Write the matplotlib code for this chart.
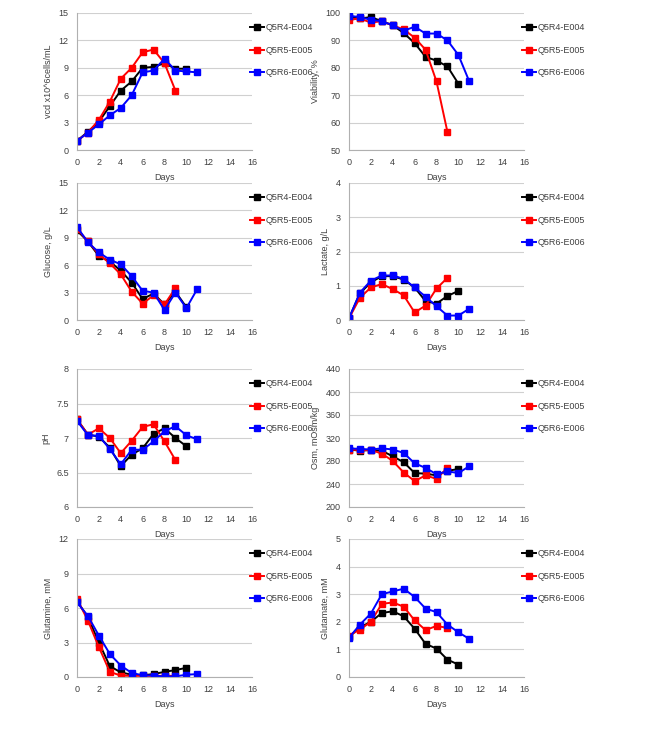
import matplotlib
matplotlib.use('Agg')
import matplotlib.pyplot as plt

plt.rcParams['font.family'] = ['Liberation Sans', 'DejaVu Sans']

series_names = ['Q5R4-E004', 'Q5R5-E005', 'Q5R6-E006']
series_colors = ['#000000', '#ff0000', '#0000ff']

# values per panel: [E004, E005, E006], day index = position
vcd = [
    [1.0, 2.0, 3.1, 4.8, 6.5, 7.5, 9.0, 9.1, 9.5, 8.9, 8.9],
    [1.0, 1.9, 3.3, 5.3, 7.8, 9.0, 10.7, 11.0, 9.5, 6.5],
    [1.0, 1.9, 2.8, 3.8, 4.6, 6.0, 8.5, 8.7, 10.0, 8.7, 8.6, 8.5],
]
viability = [
    [98.5, 98.0, 98.5, 97.0, 95.5, 92.7, 89.0, 84.0, 82.6, 80.5, 74.2],
    [97.5, 98.0, 96.5, 97.0, 95.5, 94.0, 91.0, 86.6, 75.0, 56.6],
    [99.0, 98.5, 97.5, 97.0, 95.5, 93.5, 95.0, 92.5, 92.5, 90.0, 84.7, 75.0],
]
glucose = [
    [9.8, 8.6, 7.0, 6.4, 5.4, 4.1, 2.3, 2.9, 1.7, 3.1, 1.4],
    [10.0, 8.6, 7.2, 6.2, 5.0, 3.1, 1.8, 2.7, 1.7, 3.5],
    [10.2, 8.5, 7.4, 6.6, 6.1, 4.8, 3.2, 3.0, 1.1, 3.0, 1.3, 3.4],
]
lactate = [
    [0.05, 0.78, 1.1, 1.28, 1.28, 1.18, 0.95, 0.55, 0.48, 0.7, 0.85],
    [0.05, 0.65, 0.95, 1.05, 0.9, 0.72, 0.22, 0.42, 0.92, 1.23],
    [0.05, 0.8, 1.15, 1.3, 1.3, 1.2, 0.95, 0.68, 0.4, 0.13, 0.13, 0.33],
]
ph = [
    [7.27, 7.05, 7.02, 6.86, 6.59, 6.76, 6.85, 7.06, 7.14, 7.0, 6.88],
    [7.27, 7.05, 7.14, 7.0, 6.78, 6.96, 7.16, 7.2, 6.95, 6.68],
    [7.25, 7.04, 7.03, 6.84, 6.62, 6.83, 6.83, 6.95, 7.1, 7.17, 7.04, 6.98],
]
osm = [
    [300, 298, 299, 298, 288, 278, 259, 258, 255, 263, 266],
    [300, 299, 299, 293, 280, 260, 245, 255, 249, 268],
    [302, 301, 300, 302, 300, 294, 276, 268, 257, 262, 259, 271],
]
glutamine = [
    [6.6, 5.2, 3.0, 0.95, 0.4, 0.2, 0.15, 0.25, 0.45, 0.6, 0.8],
    [6.8, 4.9, 2.6, 0.45, 0.12, 0.1, 0.1, 0.1, 0.1, 0.1],
    [6.5, 5.3, 3.6, 2.0, 1.0, 0.35, 0.15, 0.12, 0.05, 0.05, 0.2, 0.25],
]
glutamate = [
    [1.45, 1.8, 2.0, 2.32, 2.38, 2.2, 1.75, 1.2, 1.03, 0.63, 0.45],
    [1.5, 1.72, 2.0, 2.65, 2.7, 2.55, 2.05, 1.7, 1.85, 1.78],
    [1.42, 1.9, 2.3, 3.0, 3.1, 3.2, 2.9, 2.48, 2.35, 1.9, 1.62, 1.38],
]

panels = [
    (vcd, 'vcd x10^6cells/mL', [0, 3, 6, 9, 12, 15]),
    (viability, 'Viability, %', [50, 60, 70, 80, 90, 100]),
    (glucose, 'Glucose, g/L', [0, 3, 6, 9, 12, 15]),
    (lactate, 'Lactate, g/L', [0, 1, 2, 3, 4]),
    (ph, 'pH', [6, 6.5, 7, 7.5, 8]),
    (osm, 'Osm, mOsm/kg', [200, 240, 280, 320, 360, 400, 440]),
    (glutamine, 'Glutamine, mM', [0, 3, 6, 9, 12]),
    (glutamate, 'Glutamate, mM', [0, 1, 2, 3, 4, 5]),
]

W, H = 649, 742
col_left = [77, 349]
row_top = [13, 183, 369, 539]
row_h = [137, 137, 138, 138]
ax_w = 175

fig = plt.figure(figsize=(W / 100, H / 100), dpi=100)

for i, (data, ylabel, yticks) in enumerate(panels):
    r, c = divmod(i, 2)
    left = col_left[c] / W
    bottom = 1 - (row_top[r] + row_h[r]) / H
    ax = fig.add_axes([left, bottom, ax_w / W, row_h[r] / H])
    for vals, name, col in zip(data, series_names, series_colors):
        ax.plot(range(len(vals)), vals, '-s', color=col, lw=1.4,
                markersize=3.7, label=name)
    ax.set_xlim(0, 16)
    ax.set_ylim(yticks[0], yticks[-1])
    ax.set_xticks(range(0, 17, 2))
    ax.set_yticks(yticks)
    ax.set_yticklabels(['%g' % t for t in yticks])
    ax.grid(axis='y', color='#d0d0d0', lw=0.8)
    ax.set_axisbelow(True)
    for s in ['top', 'right']:
        ax.spines[s].set_visible(False)
    for s in ['left', 'bottom']:
        ax.spines[s].set_color('#b0b0b0')
        ax.spines[s].set_linewidth(0.8)
    ax.tick_params(length=0, labelsize=6.5, colors='#404040', pad=6)
    ax.set_xlabel('Days', fontsize=6.5, color='#404040', labelpad=4)
    ax.set_ylabel(ylabel, fontsize=6.5, color='#404040', labelpad=4)
    ax.legend(loc='upper left', bbox_to_anchor=(0.94, 0.985), frameon=False,
              fontsize=6.5, handlelength=1.6, handletextpad=0.2,
              labelspacing=1.5, labelcolor='#404040')

fig.savefig('out.png', dpi=100)
